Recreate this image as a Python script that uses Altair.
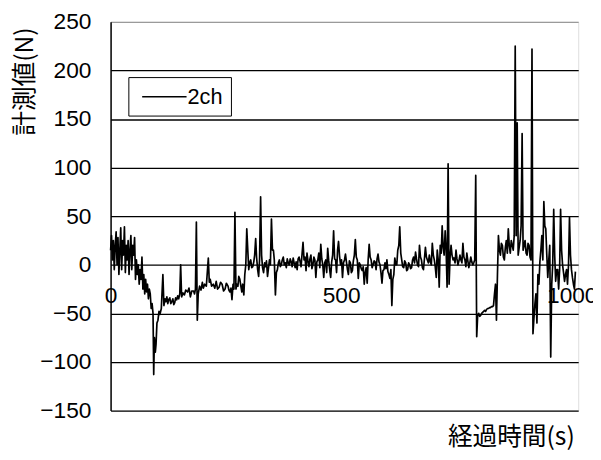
import altair as alt
import pandas as pd

time_s = [0, 2, 4, 6, 8, 10, 12, 14, 16, 18, 20, 22, 24, 26, 28, 30, 32, 34, 36, 38, 40, 42, 44, 46, 48, 50, 52, 54, 56, 58, 60, 62, 64, 66, 68, 70, 72, 74, 76, 78, 80, 82, 84, 86, 88, 90, 92, 93.5, 95, 97, 98.5, 100.5, 102.7, 105, 107, 110, 113.4, 115.6, 118, 120, 122, 124, 126, 128.4, 130.5, 132.7, 135, 137, 139.1, 141, 143.4, 145.5, 147.7, 150, 151.9, 154, 157, 160, 163, 167, 170, 173, 176, 180, 182, 184, 186, 188, 190, 193, 196, 199, 201, 204, 207.6, 211.9, 214, 216.1, 219, 222.6, 226, 229, 232, 235.4, 238.5, 241.8, 245, 248.2, 251, 254.7, 256.5, 258.9, 261, 263.2, 265.5, 267.5, 269.6, 271.8, 274, 276.1, 278, 280.3, 282.5, 284.6, 286.5, 288.9, 291, 293.2, 295.3, 297.5, 299.6, 301.5, 303.9, 306, 308.2, 310.5, 312.4, 314.6, 316.5, 318.9, 321, 323, 325.3, 327.4, 329.5, 331.7, 334, 336, 338, 340.3, 342.5, 344.5, 346.5, 348.8, 351, 353.1, 355, 357.4, 359.5, 361.7, 363.8, 365.9, 368, 370.2, 372.3, 374.5, 376.6, 378.8, 381, 383.1, 385.2, 387.3, 389.5, 391.6, 393.7, 395.9, 398, 400.2, 402.3, 404.5, 406.6, 408.7, 411, 413, 415, 417.3, 419.5, 421.6, 423.8, 425.9, 428, 430.1, 432.3, 434.4, 436.6, 438.7, 440.8, 443, 445.1, 447.3, 449.4, 451.5, 453.7, 455.8, 458, 460.1, 462.2, 464.3, 466.5, 468.6, 470.8, 473, 475.1, 477.2, 479.4, 481.5, 483.6, 485.8, 487.9, 490, 492.2, 494.3, 496.5, 498.6, 500.8, 502.9, 505, 507.2, 509.3, 511.4, 513.6, 515.7, 517.8, 520, 522.1, 524.3, 526.4, 528.6, 530.7, 532.8, 535, 537.1, 539.3, 541.4, 543.5, 545.7, 547.8, 550, 552.1, 554.2, 556.4, 558.5, 560.7, 562.8, 565, 567.1, 569.2, 571.4, 573.5, 575.7, 577.8, 579.9, 582, 584.2, 586.3, 588.5, 590.6, 592.8, 595, 597, 599.2, 601.3, 603.5, 605.6, 607.8, 609.9, 612, 614.2, 616.3, 618.5, 620.6, 622.7, 625, 627, 629.2, 631.3, 633.4, 635.6, 637.7, 639.9, 642, 644.1, 646.3, 648.4, 650.5, 652.7, 654.8, 657, 659.1, 661.3, 663.4, 665.5, 667.7, 669.8, 672, 674.1, 676.2, 678.4, 680.5, 682.7, 684.8, 686.9, 689, 691.2, 693.3, 695.5, 697.6, 699.8, 701.9, 704, 706.2, 708.3, 710.5, 712.6, 714.8, 717, 719, 721.2, 723.3, 725.5, 727.6, 729.7, 731.9, 734, 736.2, 738.3, 740.4, 742.6, 744.7, 746.9, 749, 751.1, 753.3, 755.4, 757.6, 759.7, 761.8, 764, 766.1, 768.3, 770.4, 772.5, 774.7, 776.8, 779, 781.1, 783.2, 785.4, 787.5, 789.6, 791.8, 793.9, 796, 798.2, 800.3, 802.5, 804.6, 806.7, 808.9, 811, 813.2, 815.3, 817.4, 819.6, 821.8, 824, 826, 828.2, 830.3, 832.5, 834.6, 836.7, 838.9, 841, 843.2, 845.3, 847.4, 849.6, 851.7, 853.9, 856, 858.1, 860.3, 862.4, 864.5, 866.7, 868.8, 871, 873.1, 875.2, 877.4, 879.5, 881.7, 883.8, 886, 888.1, 890.2, 892.4, 894.5, 896.7, 898.8, 901, 903.1, 905.2, 907.4, 909.5, 911.6, 913.8, 915.9, 918, 920.2, 922.3, 924.5, 926.6, 928.8, 930.9, 933, 935.2, 937.3, 939.5, 941.6, 943.7, 945.9, 948, 950.2, 952.3, 954.4, 956.6, 958.7, 960.9, 963, 965.1, 967.3, 969.4, 971.6, 973.7, 975.8, 978, 980.1, 982.2, 984.4, 986.5, 988.7, 990.8, 993, 995.1, 997.2, 999.4, 1001.5, 1003.7, 1005.8, 1007.9]

force_n = [15, 30, 5, 25, -5, 20, 34, 0, 28, -10, 15, 38, -5, 25, 10, 39, -8, 20, 5, 25, -10, 15, 30, -5, 20, 10, 28, -15, 5, -10, 0, -20, -5, -15, 8, -25, -10, -30, -15, -28, -20, -35, -25, -30, -45, -40, -50, -113, -75, -90, -82, -60, -57, -48, -51, -45, -10, -42, -35, -38, -33, -40, -36, -34, -40, -38, -35, -41, -39, -34, -36, -32, -35, -30, 0, -33, -29, -31, -26, -28, -24, -33, -27, -27, -30, -25, 44, -57, -30, -22, -26, -18, -24, -20, -22, 7, -18, -15, -22, -20, -24, -17, -25, -23, -18, -20, -27, -25, -19, -22, -26, -28, -24, -36, -20, -25, 54, -25, -20, -22, -12, -15, -22, -28, -20, -31, -10, 0, 37, 15, -5, 2, 5, -3, -2, 3, 10, 27, 8, -5, -12, 5, 70, 10, -3, -8, 2, -2, 4, -12, -3, 5, 0, 47, 15, 15, 5, -31, -8, -5, 2, 5, -2, 0, 5, 8, 0, 2, -3, 6, 2, 0, 6, 3, -2, 7, 2, -3, 3, -5, 6, 8, 3, -2, 10, 23, 5, 8, -6, 12, 4, -2, 6, 10, -4, 0, 8, 5, -13, 3, 5, 12, -3, 21, 6, 0, -13, 2, 5, -8, 17, 4, -5, -13, 3, 10, 35, 6, 5, -8, 15, 24, 9, 0, 5, -13, 2, 5, 11, 3, -5, -10, 4, 2, -8, -6, 4, 10, 26, 8, 5, -14, 2, 0, -4, -6, -2, -20, -8, -3, -19, 5, 21, 8, 5, -3, 0, 4, 3, -5, 6, 11, 3, 0, -8, -19, -6, -5, 2, -4, 5, -7, -10, -14, -5, -42, -15, -10, 7, 0, 0, 15, 20, 39, 12, 5, -2, -3, 4, 2, -6, -5, 2, 0, -4, -3, 5, 8, 2, 13, 6, 0, -2, 20, 8, 5, -3, -5, 6, 18, 8, 5, 2, 10, 3, 0, 22, 10, 5, -2, -13, 15, 5, -23, 20, 12, 40, 18, 10, 35, 15, -23, 104, -20, 8, 20, 10, 5, 7, 2, 15, 6, 0, 4, 10, 5, 2, 22, 8, 5, -2, 12, 4, -3, 2, 8, 3, 0, 2, 5, 92, -74, -52, -50, -53, -52, -50, -49, -48, -47, -48, -46, -45, -45, -44, -44, -43, -43, -42, -30, -20, -57, -10, 30, 15, 10, 22, 20, 8, 5, 18, 25, 12, 37, 20, 12, 25, 20, 15, 30, 225, 30, 146, 10, 18, 25, 40, 135, 15, 20, 25, 12, 10, 22, 20, 8, 5, 222, -71, -55, -40, -30, -60, -10, -20, 3, 15, 30, 5, 65, 40, 37, 10, -13, 5, 20, -95, -20, 0, 57, 10, -17, -5, -5, -25, -5, 57, 15, 0, -8, -17, -10, -5, -20, 0, 49, 10, -5, -13, -20, -25, -7]

series_name = ["2ch"]
y_ticks = [-150, -100, -50, 0, 50, 100, 150, 200, 250]
x_ticks = [0, 500, 1000]

df = pd.DataFrame({"t": time_s, "v": force_n, "series": series_name[0]})

grid_color = {"condition": {"test": "datum.value === 250", "value": "#9a9a9a"}, "value": "#000000"}

chart = alt.Chart(df).mark_line(strokeWidth=1.7, strokeJoin="round").encode(
    x=alt.X("t:Q", scale=alt.Scale(domain=[0, 1014], nice=False, zero=False),
            axis=alt.Axis(values=x_ticks, format="d", grid=False, ticks=False, domain=False,
                          offset=-147.75, labelPadding=20, labelFlush=False,
                          labelFont="Liberation Sans", labelFontSize=23, labelColor="black",
                          title="経過時間(s)", titleFont="Noto Sans CJK JP", titleFontSize=25,
                          titleFontWeight="normal", titleColor="black",
                          titleX=470, titleY=174, titleAlign="right", titleBaseline="middle")),
    y=alt.Y("v:Q", scale=alt.Scale(domain=[-150, 250], nice=False),
            axis=alt.Axis(values=y_ticks, ticks=False, labelPadding=20,
                          labelFont="Liberation Sans", labelFontSize=23, labelColor="black",
                          domainColor="black", domainWidth=1.5,
                          gridColor=grid_color, gridWidth=1.3,
                          title="計測値(N)", titleFont="Noto Sans CJK JP", titleFontSize=25,
                          titleFontWeight="normal", titleColor="black",
                          titleX=-87, titleY=60, titleAngle=270,
                          titleAlign="center", titleBaseline="middle")),
    color=alt.Color("series:N", scale=alt.Scale(domain=series_name, range=["black"]),
                    legend=alt.Legend(orient="none", legendX=18, legendY=56, title=None,
                                      strokeColor="black", fillColor="white", padding=8,
                                      symbolType="M-0.545,0H3.545", symbolSize=484,
                                      symbolStrokeWidth=1.5,
                                      labelFont="Liberation Sans", labelFontSize=22,
                                      labelColor="black", labelOffset=28)),
).properties(
    width=474, height=394,
    autosize=alt.AutoSizeParams(type="none"),
    padding={"left": 104, "top": 11, "right": 15, "bottom": 40},
).configure_view(stroke="#9a9a9a", strokeWidth=1).configure(background="white")

chart.save("out.html", embed_options={"renderer": "svg", "actions": False})
